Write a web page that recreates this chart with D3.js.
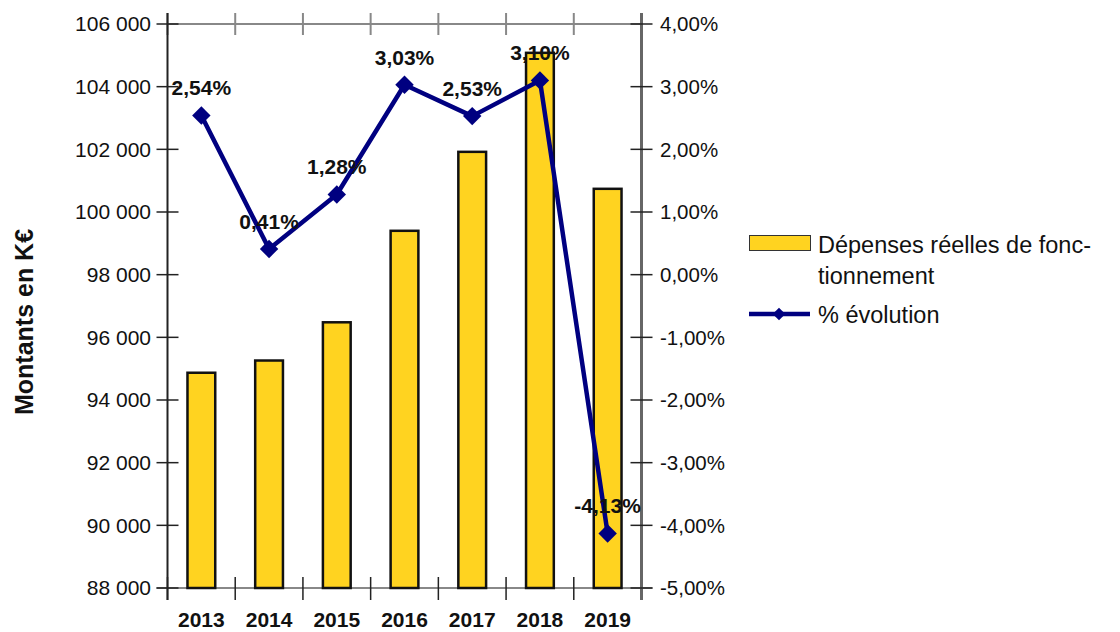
<!DOCTYPE html>
<html><head><meta charset="utf-8">
<script src="https://cdn.jsdelivr.net/npm/d3@7"></script>
<style>
html,body{margin:0;padding:0;background:#fff;}
svg{display:block;font-family:"Liberation Sans",Arial,sans-serif;}
</style></head>
<body><svg id="c" width="1120" height="632"></svg>
<script>
const years = ["2013","2014","2015","2016","2017","2018","2019"];
const depenses = [94870, 95260, 96480, 99400, 101920, 105080, 100740];
const evolution = [2.54, 0.41, 1.28, 3.03, 2.53, 3.10, -4.13];
const leftTicks = [88000,90000,92000,94000,96000,98000,100000,102000,104000,106000];
const rightTicks = [-5,-4,-3,-2,-1,0,1,2,3,4];
const barLabel1 = "Dépenses réelles de fonc-";
const barLabel2 = "tionnement";
const lineLabel = "% évolution";
const yTitle = "Montants en K€";

const fr = d3.formatLocale({decimal:",", thousands:"\u00a0", grouping:[3], currency:["","€"], minus:"-"});
const fmtK = fr.format(",d");
const fmtP = v => fr.format(".2f")(v) + "%";

const svg = d3.select("#c");
const L = 167.5, R = 641.5, T = 24, B = 588;
const x = d3.scaleBand().domain(years).range([L, R]).paddingInner(0).paddingOuter(0);
const y = d3.scaleLinear().domain([88000, 106000]).range([B, T]);
const y2 = d3.scaleLinear().domain([-5, 4]).range([B, T]);

// top border (grey) with category ticks
svg.append("line").attr("x1", L).attr("x2", R).attr("y1", T).attr("y2", T)
  .attr("stroke", "#888").attr("stroke-width", 2);
const bounds = years.map(d => x(d)).concat([R]);
svg.selectAll(".tt").data(bounds).enter().append("line")
  .attr("x1", d => d).attr("x2", d => d).attr("y1", T - 11).attr("y2", T + 11)
  .attr("stroke", "#888").attr("stroke-width", 2);

// bottom line
svg.append("line").attr("x1", L - 11).attr("x2", R + 11).attr("y1", B).attr("y2", B)
  .attr("stroke", "#888").attr("stroke-width", 2);

// bars
const bw = x.bandwidth() * 0.41;
svg.selectAll(".bar").data(years).enter().append("rect")
  .attr("x", d => x(d) + x.bandwidth()/2 - bw/2)
  .attr("y", (d,i) => y(depenses[i]))
  .attr("width", bw)
  .attr("height", (d,i) => B - y(depenses[i]))
  .attr("fill", "#FFD320").attr("stroke", "#111").attr("stroke-width", 2.5);

// bottom category ticks
svg.selectAll(".bt").data(bounds).enter().append("line")
  .attr("x1", d => d).attr("x2", d => d).attr("y1", B - 11).attr("y2", B + 12)
  .attr("stroke", "#222").attr("stroke-width", 1.5);

// left axis
svg.append("line").attr("x1", L).attr("x2", L).attr("y1", T - 11).attr("y2", B + 12)
  .attr("stroke", "#222").attr("stroke-width", 2);
svg.selectAll(".lt").data(leftTicks).enter().append("line")
  .attr("x1", L - 11).attr("x2", L + 11).attr("y1", d => y(d)).attr("y2", d => y(d))
  .attr("stroke", "#222").attr("stroke-width", 1.5);
svg.selectAll(".ll").data(leftTicks).enter().append("text")
  .attr("x", 151).attr("y", d => y(d)).attr("dy", "0.35em")
  .attr("text-anchor", "end").attr("font-size", "21px").attr("fill", "#111")
  .text(d => fmtK(d));

// right axis
svg.append("line").attr("x1", R).attr("x2", R).attr("y1", T - 11).attr("y2", B + 12)
  .attr("stroke", "#666").attr("stroke-width", 3);
svg.selectAll(".rt").data(rightTicks).enter().append("line")
  .attr("x1", R - 11).attr("x2", R + 11).attr("y1", d => y2(d)).attr("y2", d => y2(d))
  .attr("stroke", "#222").attr("stroke-width", 1.5);
svg.selectAll(".rl").data(rightTicks).enter().append("text")
  .attr("x", 660).attr("y", d => y2(d)).attr("dy", "0.35em")
  .attr("text-anchor", "start").attr("font-size", "20.5px").attr("fill", "#111")
  .text(d => fmtP(d));

// x labels
svg.selectAll(".xl").data(years).enter().append("text")
  .attr("x", d => x(d) + x.bandwidth()/2).attr("y", 627)
  .attr("text-anchor", "middle").attr("font-size", "21px").attr("font-weight", "bold")
  .attr("fill", "#111").text(d => d);

// line
const cx = d => x(d) + x.bandwidth()/2;
const lineGen = d3.line().x((d,i) => cx(years[i])).y(d => y2(d));
svg.append("path").datum(evolution).attr("d", lineGen)
  .attr("fill", "none").attr("stroke", "#000080").attr("stroke-width", 4.5)
  .attr("stroke-linejoin", "round");
const diamond = d3.symbol().type(d3.symbolSquare).size(170);
svg.selectAll(".pt").data(evolution).enter().append("path")
  .attr("d", diamond())
  .attr("transform", (d,i) => `translate(${cx(years[i])},${y2(d)}) rotate(45)`)
  .attr("fill", "#000080");
svg.selectAll(".pl").data(evolution).enter().append("text")
  .attr("x", (d,i) => cx(years[i])).attr("y", d => y2(d) - 20)
  .attr("text-anchor", "middle").attr("font-size", "21px").attr("font-weight", "bold")
  .attr("fill", "#111").text(d => fmtP(d));

// y title
svg.append("text").attr("transform", "translate(33,322) rotate(-90)")
  .attr("text-anchor", "middle").attr("font-size", "25px").attr("font-weight", "bold")
  .attr("fill", "#111").text(yTitle);

// legend
const lg = svg.append("g");
lg.append("rect").attr("x", 749.5).attr("y", 235.5).attr("width", 61).attr("height", 15)
  .attr("fill", "#FFD320").attr("stroke", "#333").attr("stroke-width", 1);
lg.append("text").attr("x", 818).attr("y", 253).attr("font-size", "23.5px").attr("fill", "#111")
  .text(barLabel1);
lg.append("text").attr("x", 818).attr("y", 284).attr("font-size", "23.5px").attr("fill", "#111")
  .text(barLabel2);
lg.append("line").attr("x1", 749).attr("x2", 810).attr("y1", 314).attr("y2", 314)
  .attr("stroke", "#000080").attr("stroke-width", 4.5);
lg.append("path").attr("d", d3.symbol().type(d3.symbolSquare).size(80)())
  .attr("transform", "translate(779,314) rotate(45)").attr("fill", "#000080");
lg.append("text").attr("x", 818).attr("y", 323).attr("font-size", "23.5px").attr("fill", "#111")
  .text(lineLabel);
</script></body></html>
